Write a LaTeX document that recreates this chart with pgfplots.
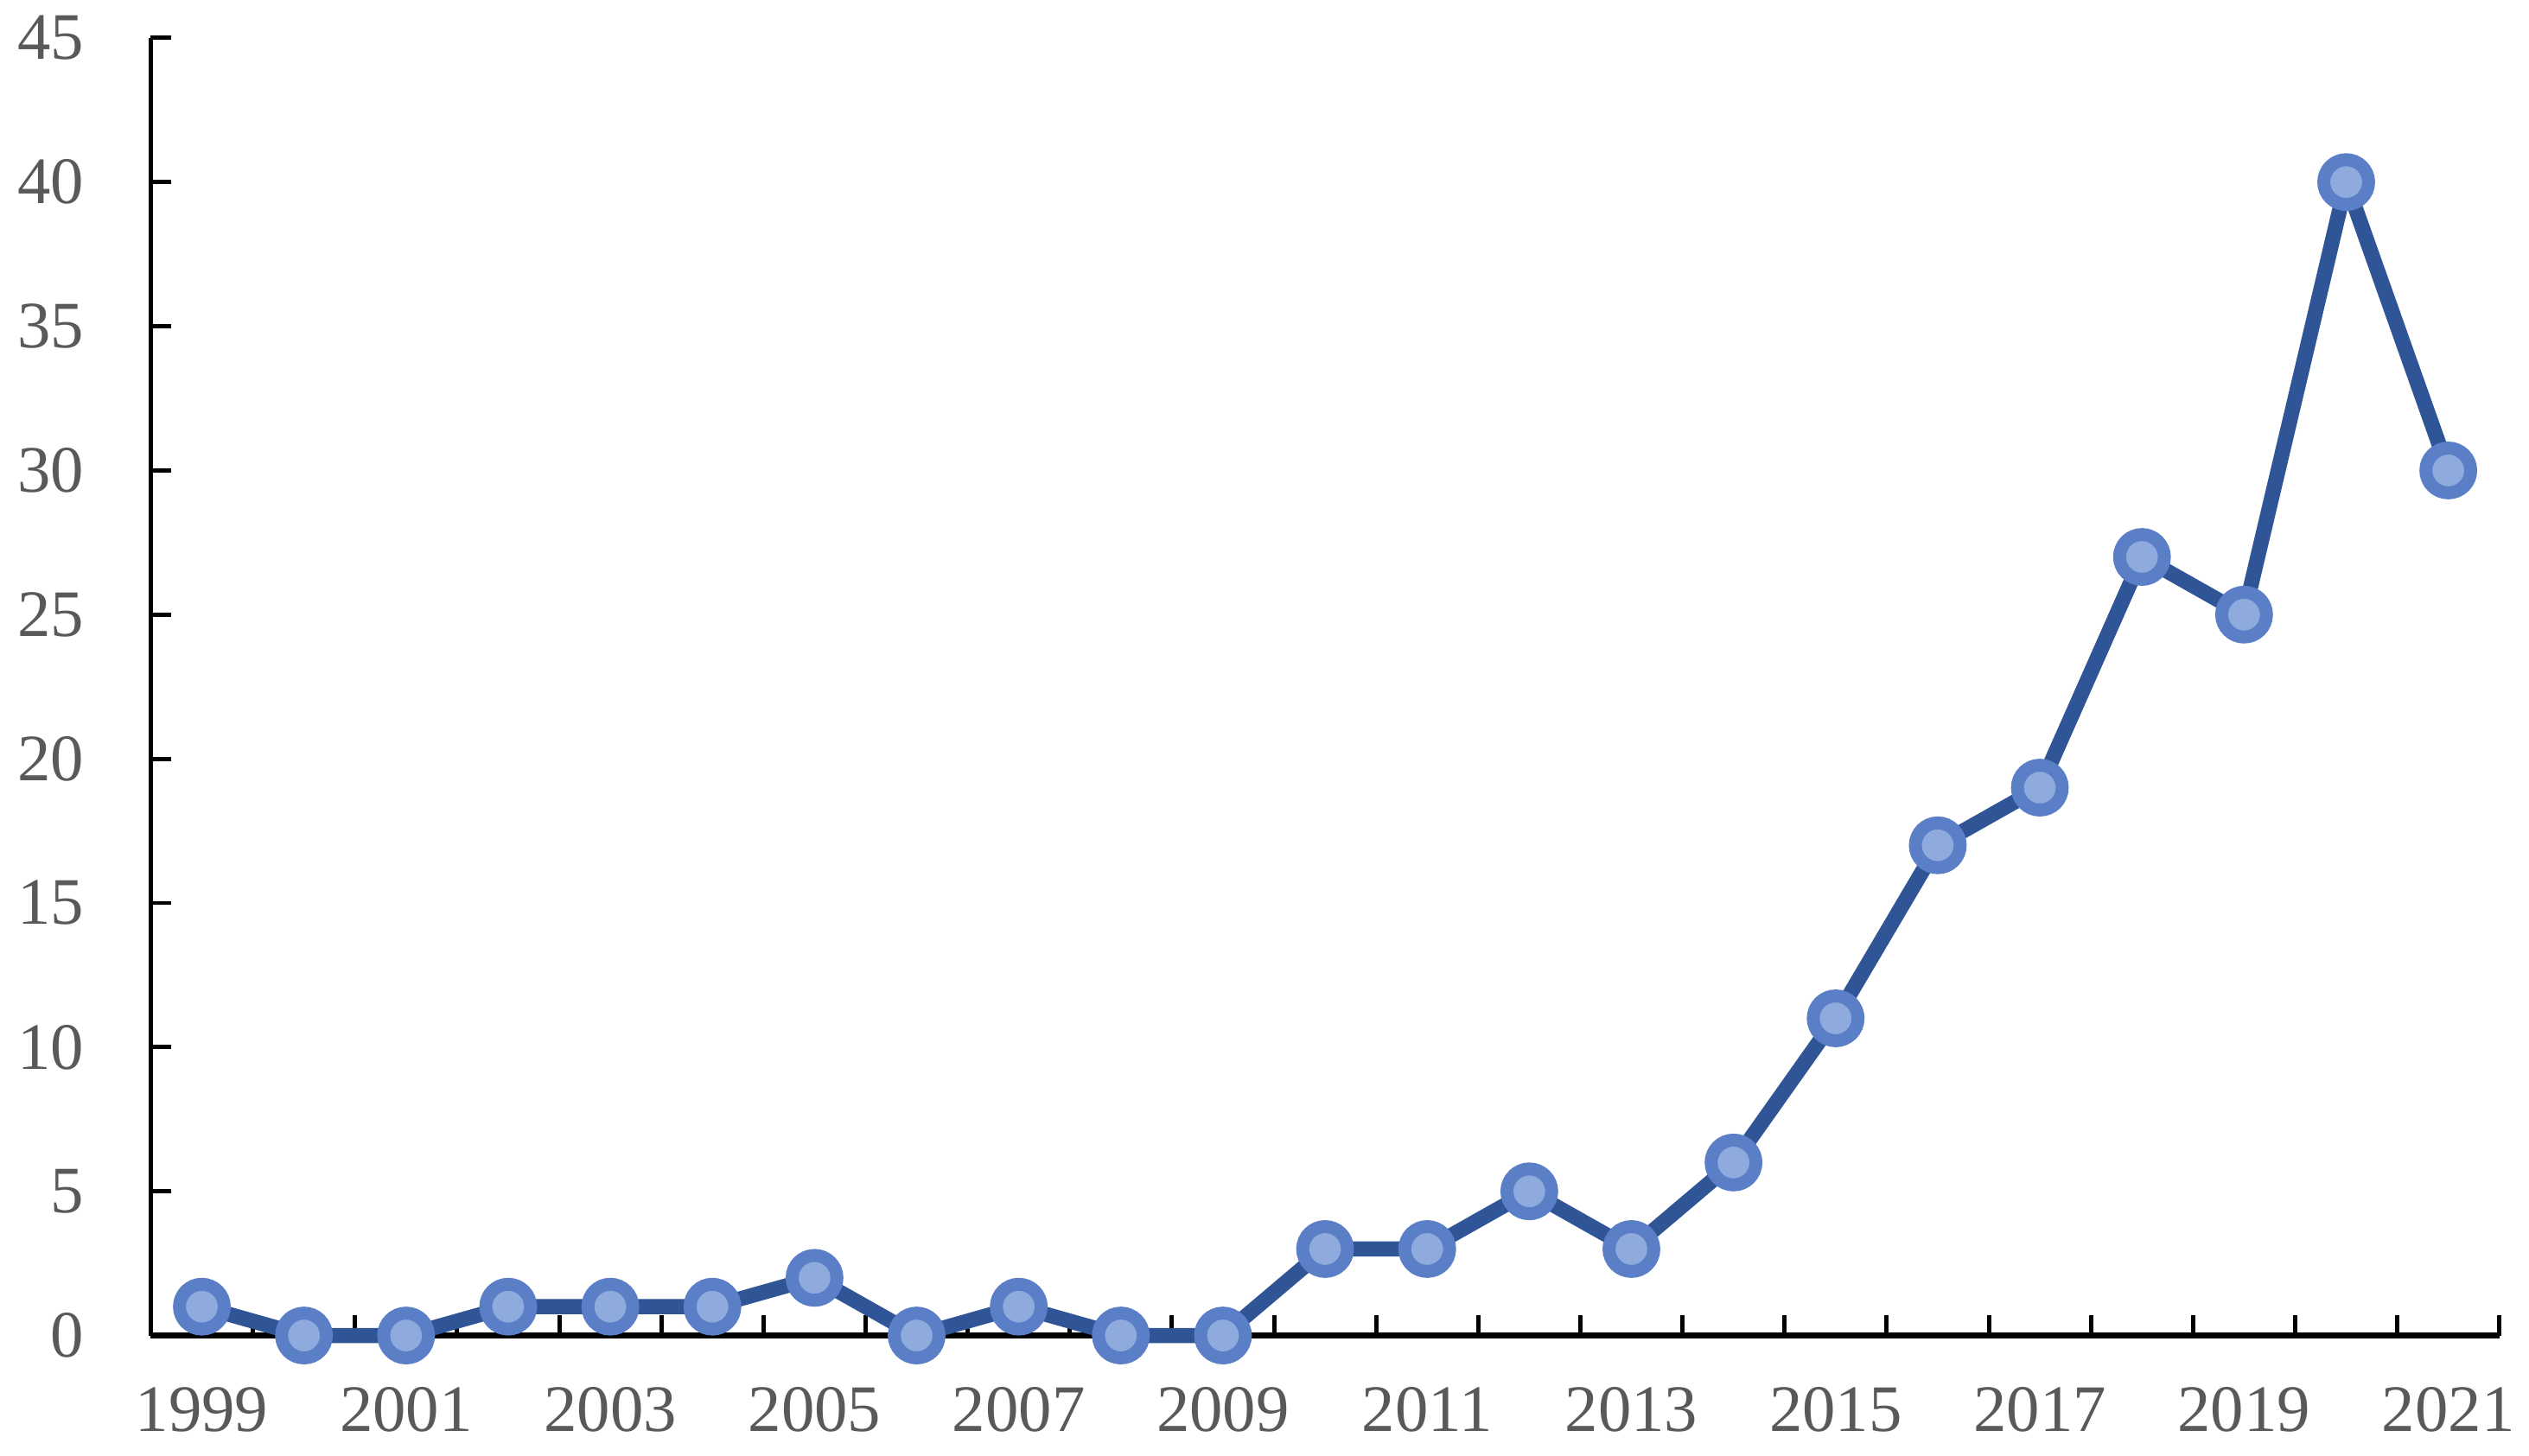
\documentclass[border=0pt]{standalone}
\usepackage{pgfplots}
\pgfplotsset{compat=1.18}
\usepackage{fontspec}
\setmainfont{Liberation Serif}

\definecolor{lineblue}{HTML}{2F5597}
\definecolor{markblue}{HTML}{5B7FC7}
\definecolor{markfill}{HTML}{8FAADC}
\definecolor{ticktext}{HTML}{595959}

\begin{document}
\begin{tikzpicture}
\path (-35pt,-27.8pt) rectangle (550.2pt,310pt);
\begin{axis}[
  scale only axis,
  width=545pt,
  height=301.2pt,
  xmin=-0.5, xmax=22.5,
  ymin=0, ymax=45,
  ytick={0,5,...,45},
  xtick={-0.5,0.5,...,22.5},
  xticklabels={},
  extra x ticks={0,2,...,22},
  extra x tick labels={1999,2001,2003,2005,2007,2009,2011,2013,2015,2017,2019,2021},
  extra x tick style={major tick length=0pt},
  axis lines=left,
  axis line style={-},
  x axis line style={line width=1.4pt},
  y axis line style={line width=1pt},
  tick align=inside,
  major tick length=4.8pt,
  tick style={black, line width=1pt},
  font=\fontsize{15.4}{18}\selectfont,
  tick label style={text=ticktext},
  /pgf/number format/assume math mode=true,
  yticklabel style={xshift=-12pt},
  xticklabel style={yshift=-8.5pt},
  clip=false,
]
\addplot[
  color=lineblue,
  line width=3.5pt,
  mark=*,
  mark size=5.2pt,
  mark options={draw=markblue, fill=markfill, line width=3pt},
] coordinates {
(0,1) (1,0) (2,0) (3,1) (4,1) (5,1) (6,2) (7,0) (8,1) (9,0) (10,0)
(11,3) (12,3) (13,5) (14,3) (15,6) (16,11) (17,17) (18,19) (19,27)
(20,25) (21,40) (22,30)
};
\end{axis}
\end{tikzpicture}
\end{document}
